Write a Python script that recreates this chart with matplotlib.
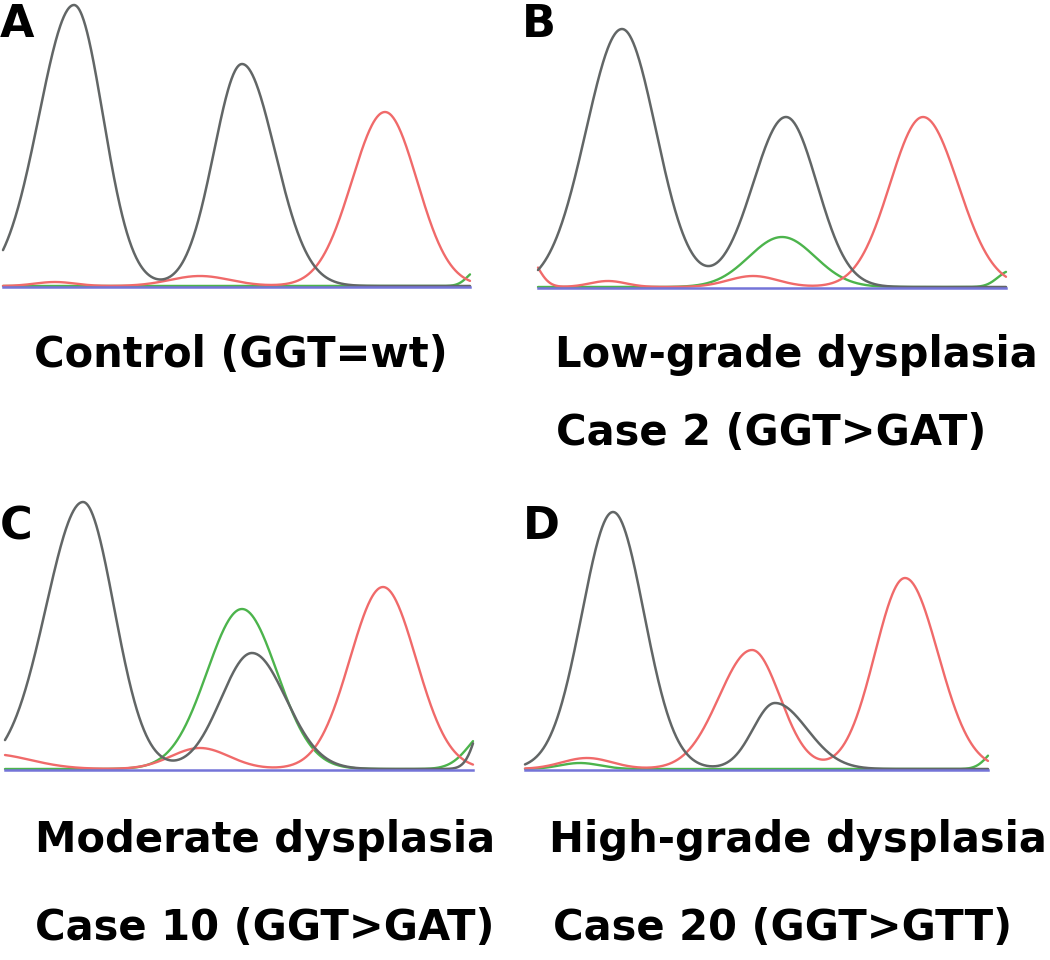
import numpy as np
import matplotlib
matplotlib.use("Agg")
import matplotlib.pyplot as plt

# Peaks: (centre, height, width left, width right)
# x = scan position, y = signal above baseline (both in trace units)
A_gray = [(74, 281, 35, 29), (242, 222, 28, 33)]
A_red = [(55, 4, 20, 20), (200, 10, 30, 30), (385, 174, 33, 32)]
A_green = [(478, 16, 10, 10)]

B_gray = [(102, 258, 36, 34), (266, 170, 33, 31)]
B_red = [(5, 35, 12, 12), (88, 6, 18, 18), (233, 11, 25, 25), (403, 170, 33, 35)]
B_green = [(262, 50, 33, 33), (490, 16, 12, 12)]

C_gray = [(83, 267, 37, 31), (252, 116, 31, 34), (490, 70, 12, 12)]
C_red = [(-10, 15, 40, 40), (200, 21, 29, 29), (383, 182, 33, 33)]
C_green = [(242, 160, 35, 35), (490, 40, 20, 20)]

D_gray = [(93, 257, 31, 31), (255, 66, 22, 32)]
D_red = [(67, 11, 25, 25), (232, 119, 33, 28), (385, 191, 30, 33)]
D_green = [(60, 6, 20, 20), (480, 22, 12, 12)]

panels = ["A", "B", "C", "D"]
trace_ranges = [(3, 470), (18, 486), (5, 473), (5, 468)]
labels_1 = ["Control (GGT=wt)", "Low-grade dysplasia", "Moderate dysplasia", "High-grade dysplasia"]
labels_2 = ["", "Case 2 (GGT>GAT)", "Case 10 (GGT>GAT)", "Case 20 (GGT>GTT)"]

W, H = 1050, 960
# panel layout in pixels: left edge, baseline row
panel_left = [0, 520, 0, 520]
panel_base = [286, 287, 769, 769]
letter_pos = [(0, 37), (522, 37), (0, 539), (523, 539)]
label_pos_1 = [(34, 367), (555, 367), (35, 852), (549, 852)]
label_pos_2 = [(34, 445), (556, 445), (35, 940), (553, 940)]

col_gray = "#626666"
col_red = "#f06a6a"
col_green = "#4cb44c"
col_blue = "#7474d8"


def trace(x, peaks):
    y = np.zeros_like(x)
    for c, h, sl, sr in peaks:
        s = np.where(x < c, sl, sr)
        y += h * np.exp(-0.5 * ((x - c) / s) ** 2)
    return y


fig = plt.figure(figsize=(W / 100, H / 100), dpi=100)

all_peaks = [
    (A_gray, A_red, A_green),
    (B_gray, B_red, B_green),
    (C_gray, C_red, C_green),
    (D_gray, D_red, D_green),
]

for i, name in enumerate(panels):
    x0 = panel_left[i]
    base = panel_base[i]
    ax = fig.add_axes([x0 / W, 1 - (base + 5) / H, 530 / W, 300 / H])
    ax.set_xlim(0, 530)
    ax.set_ylim(-5, 295)
    ax.set_axis_off()

    gray, red, green = all_peaks[i]
    start, end = trace_ranges[i]
    x = np.linspace(start, end, 800)
    ax.plot(x, trace(x, green), color=col_green, lw=1.7, solid_capstyle="round")
    ax.plot(x, trace(x, red), color=col_red, lw=1.7, solid_capstyle="round")
    ax.plot(x, trace(x, gray), color=col_gray, lw=1.8, solid_capstyle="round")
    ax.plot(x, np.zeros_like(x) - 1, color=col_blue, lw=1.8)

    lx, ly = letter_pos[i]
    fig.text(lx / W, 1 - ly / H, name, fontsize=32, fontweight="bold",
             family="DejaVu Sans", va="baseline", ha="left")
    tx, ty = label_pos_1[i]
    fig.text(tx / W, 1 - ty / H, labels_1[i], fontsize=30, fontweight="bold",
             family="DejaVu Sans", va="baseline", ha="left")
    if labels_2[i]:
        tx, ty = label_pos_2[i]
        fig.text(tx / W, 1 - ty / H, labels_2[i], fontsize=30, fontweight="bold",
                 family="DejaVu Sans", va="baseline", ha="left")

fig.savefig("out.png", dpi=100)
